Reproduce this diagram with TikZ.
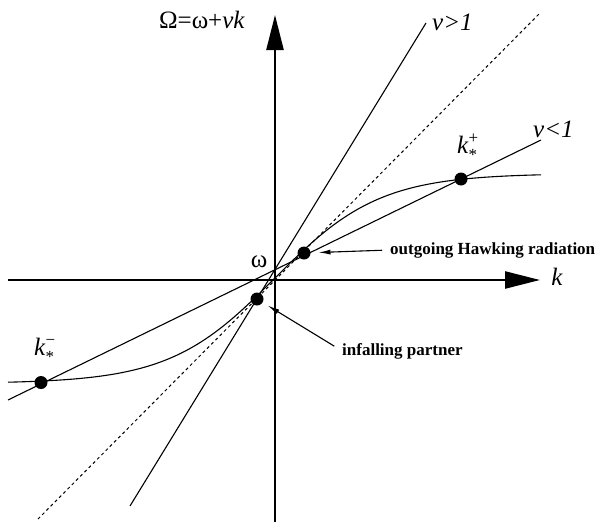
\documentclass[tikz,border=0pt]{standalone}
\usepackage{fontspec}
\setmainfont{Liberation Serif}
\usetikzlibrary{arrows.meta}
\newcommand{\kstar}[1]{\textit{k}\rlap{\raisebox{10pt}{\fontsize{17}{17}\selectfont #1}}\raisebox{-7pt}{\fontsize{17}{17}\selectfont *}}
\begin{document}
\begin{tikzpicture}[x=1pt,y=-1pt,
  axis/.style={line width=2.4pt,-{Triangle[length=35pt,width=17pt]}},
  lineA/.style={line width=1.1pt},
  dashline/.style={line width=1pt,dash pattern=on 3pt off 3pt},
  dot/.style={circle,fill=black,inner sep=0pt,outer sep=0pt,minimum size=13pt},
  pointer/.style={line width=1.1pt,-{Latex[length=12pt,width=5pt]}},
  biglbl/.style={font=\fontsize{25}{28}\selectfont,inner sep=0pt},
  notelbl/.style={font=\fontsize{17}{20}\selectfont\bfseries,inner sep=0pt,anchor=base west}]
\useasboundingbox (0,0) rectangle (605,522);
% axes
\coordinate (xs) at (8,280);
\coordinate (xe) at (540,280);
\coordinate (ys) at (275,522);
\coordinate (ye) at (275,15);
\draw[axis] (xs) -- (xe);
\draw[axis] (ys) -- (ye);
% lines
\coordinate (d1) at (38,519);
\coordinate (d2) at (540,13);
\draw[dashline] (d1) -- (d2);
\coordinate (g1) at (130,506);
\coordinate (g2) at (426,23);
\draw[lineA] (g1) -- (g2);
\coordinate (s1) at (8,400);
\coordinate (s2) at (541,140);
\draw[lineA] (s1) -- (s2);
% dispersion curve
\draw[lineA] plot[domain=-266.5:266.5,samples=160,smooth] ({274.5+\x},{278.5-105*tanh(\x/105)});
% dots
\node[dot] (kp) at (461,179) {};
\node[dot] (km) at (41,382.5) {};
\node[dot] (dout) at (304,253) {};
\node[dot] (din) at (257,299) {};
% labels
\node[biglbl,anchor=base] (om) at (202,28) {Ω=ω+\textit{vk}};
\node[biglbl,anchor=base west] (vg) at (432,30) {\textit{v>1}};
\node[biglbl,anchor=base west] (vl) at (533,137) {\textit{v<1}};
\node[biglbl,anchor=base] (kx) at (557,285) {\textit{k}};
\node[biglbl,anchor=base] (w0) at (259,267) {ω};
\node[biglbl,anchor=base west] (kpl) at (457,153) {\kstar{+}};
\node[biglbl,anchor=base west] (kml) at (34,355) {\kstar{−}};
\node[notelbl] (og) at (390,254) {outgoing Hawking radiation};
\node[notelbl] (ip) at (342,355) {infalling partner};
\draw[pointer,shorten <=8pt,shorten >=8pt] (og.west) -- (dout);
\draw[pointer,shorten <=9pt,shorten >=6pt] (ip.west) -- (din);
\end{tikzpicture}
\end{document}
